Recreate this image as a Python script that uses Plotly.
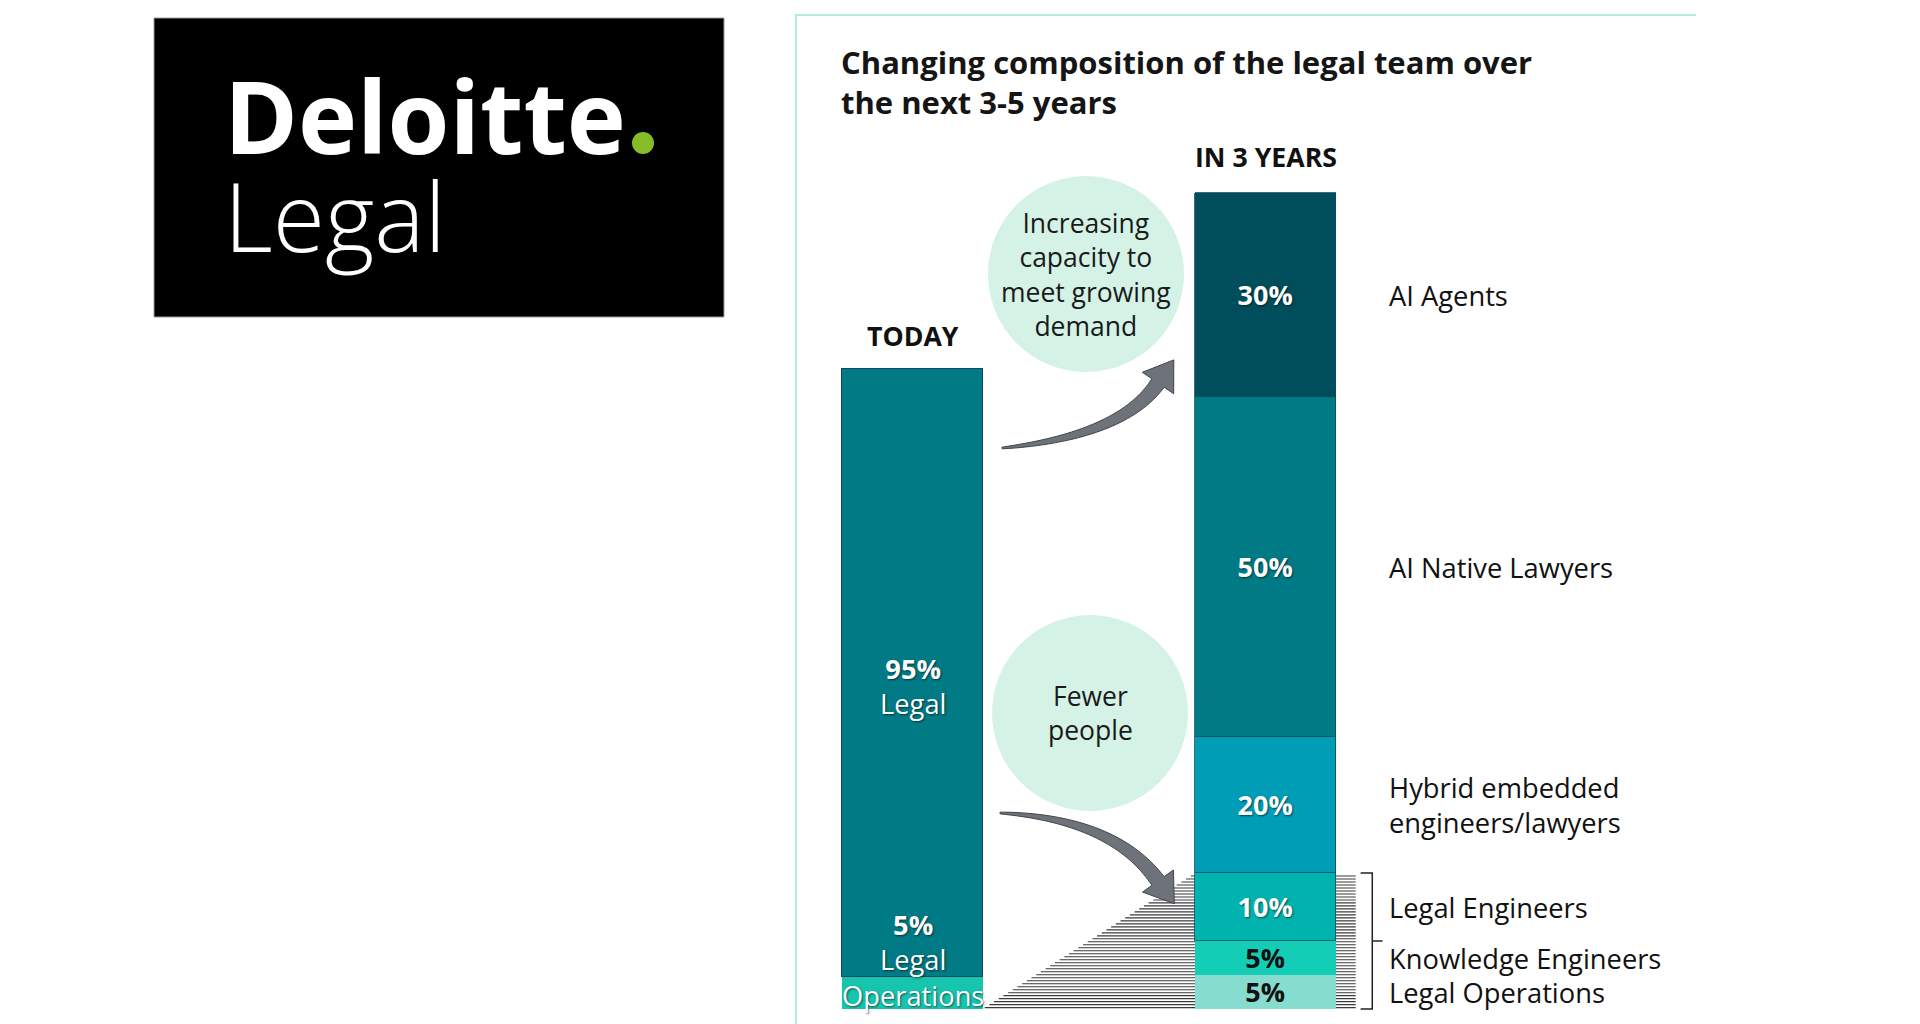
import numpy as np
import plotly.graph_objects as go

W, H = 1920, 1024
OFF = 8  # page body margin of the browser

# ---------------- data ----------------
bar_names = ["TODAY", "IN 3 YEARS"]
bar_pos = [0, 1]

today_labels = ["Legal Operations", "Legal"]
today_values = [5, 95]
today_colors = ["#17C4AE", "#007A84"]

future_labels = ["Legal Operations", "Knowledge Engineers", "Legal Engineers",
                 "Hybrid embedded<br>engineers/lawyers", "AI Native Lawyers", "AI Agents"]
future_values = [5, 5, 10, 20, 50, 30]
future_colors = ["#86DCCF", "#14CDB6", "#00B3AF", "#009DB7", "#007A84", "#004E5B"]
future_text_colors = ["#111111", "#111111", "white", "white", "white", "white"]

title_text = "Changing composition of the legal team over<br>the next 3-5 years"
bubble_texts = ["Increasing<br>capacity to<br>meet growing<br>demand", "Fewer<br>people"]

FONT = "Open Sans"
BAR_W = 0.397
SHADOW = "1px 1px 2px rgba(0,0,0,0.55)"
TXT = 27.3

fig = go.Figure()

# today bar (own scale)
for lab, v, c in zip(today_labels, today_values, today_colors):
    fig.add_trace(go.Bar(
        x=[bar_pos[0]], y=[v], width=BAR_W, name=lab, yaxis="y2",
        marker=dict(color=c, line=dict(color="#0d4a5e", width=1 if lab == "Legal" else 0)),
        hoverinfo="skip", showlegend=False))

# in 3 years bar
for lab, v, c, tc in zip(future_labels, future_values, future_colors, future_text_colors):
    fig.add_trace(go.Bar(
        x=[bar_pos[1]], y=[v], width=BAR_W, name=lab, yaxis="y",
        marker=dict(color=c, line=dict(color="#0d4a5e" if tc == "white" else "rgba(0,0,0,0)", width=0.8)),
        text=["<b>%d%%</b>" % v], textposition="inside", insidetextanchor="middle", constraintext="none",
        textfont=dict(family=FONT, size=27, color=tc, shadow=SHADOW if tc == "white" else "none"),
        hoverinfo="skip", showlegend=False))

# ---------------- geometry helpers (screen pixels -> paper) ----------------
def fx(px):
    return (px - OFF) / W

def fy(py):
    return 1 - (py - OFF) / H

def pp(px, py):
    return "%.5f,%.5f" % (fx(px), fy(py))

shapes = []
annotations = []

# frame of chart panel
shapes.append(dict(type="path", xref="paper", yref="paper",
                   path="M %s L %s L %s" % (pp(796, 1040), pp(796, 15), pp(1696, 15)),
                   line=dict(color="#b4eadf", width=2)))

# logo
shapes.append(dict(type="rect", xref="paper", yref="paper",
                   x0=fx(154), x1=fx(724), y0=fy(317), y1=fy(18),
                   fillcolor="black", line=dict(color="#9a9a9a", width=1)))
shapes.append(dict(type="circle", xref="paper", yref="paper",
                   x0=fx(643 - 11), x1=fx(643 + 11), y0=fy(143 + 11), y1=fy(143 - 11),
                   fillcolor="#86BC25", line=dict(width=0)))
annotations.append(dict(xref="paper", yref="paper", x=fx(222), y=fy(163), xanchor="left", yanchor="middle",
                        align="left", showarrow=False,
                        text=("<span style='font-size:100px;font-weight:700'>Deloitte</span><br>"
                              "<span style='font-size:95px;font-weight:300'>Legal</span>"),
                        font=dict(family=FONT, size=75, color="white")))

# title
annotations.append(dict(xref="paper", yref="paper", x=fx(839), y=fy(39), xanchor="left",
                        yanchor="top", align="left", showarrow=False, text="<b>%s</b>" % title_text,
                        font=dict(family=FONT, size=31, color="#151515")))

# bubbles
for (cx, cy), txt in zip([(1086, 274), (1090, 713)], bubble_texts):
    r = 98
    shapes.append(dict(type="circle", xref="paper", yref="paper", layer="below",
                       x0=fx(cx - r), x1=fx(cx + r), y0=fy(cy + r), y1=fy(cy - r),
                       fillcolor="#d5f2e7", line=dict(width=0)))
    annotations.append(dict(xref="paper", yref="paper", x=fx(cx), y=fy(cy), xanchor="center",
                            yanchor="middle", text=txt, showarrow=False,
                            font=dict(family=FONT, size=26.5, color="#1a1a1a")))

# curved arrows
def arrow_path(p0, p1, p2, head_len=28, head_half=19, w_end=7.5, w_start=0.8):
    p0, p1, p2 = map(np.array, (p0, p1, p2))
    ts = np.linspace(0, 1, 40)
    left, right = [], []
    for t in ts:
        pt = (1 - t) ** 2 * p0 + 2 * (1 - t) * t * p1 + t ** 2 * p2
        tg = 2 * (1 - t) * (p1 - p0) + 2 * t * (p2 - p1)
        tg = tg / np.linalg.norm(tg)
        n = np.array([-tg[1], tg[0]])
        w = w_start + (w_end - w_start) * t ** 0.8
        left.append(pt + n * w)
        right.append(pt - n * w)
    d = (p2 - p1) / np.linalg.norm(p2 - p1)
    ne = np.array([-d[1], d[0]])
    tip = p2 + d * head_len
    c1 = p2 + ne * head_half
    c2 = p2 - ne * head_half
    pts = left + [c1, tip, c2] + right[::-1]
    return "M " + " L ".join(pp(*q) for q in pts) + " Z"

shapes.append(dict(type="path", xref="paper", yref="paper",
                   path=arrow_path((1002, 448), (1121.7, 436), (1158, 383)),
                   fillcolor="#6d7378", line=dict(color="#3f454b", width=1)))
shapes.append(dict(type="path", xref="paper", yref="paper",
                   path=arrow_path((1000, 813), (1113.4, 818.7), (1158, 881)),
                   fillcolor="#6d7378", line=dict(color="#3f454b", width=1)))

# hatched wedge (data coords of the 3-year axis)
lo_top = sum(future_values[:3])          # top of Legal Engineers segment
x_tr = bar_pos[0] + BAR_W / 2
x_fl = bar_pos[1] - BAR_W / 2
x_fr = bar_pos[1] + BAR_W / 2 + 0.057
segs = []
for yv in np.arange(0.2, lo_top, 0.44):
    xl = x_tr + (x_fl - x_tr) * yv / lo_top
    segs.append("M %.4f,%.3f L %.4f,%.3f" % (xl, yv, x_fr, yv))
shapes.append(dict(type="path", xref="x", yref="y", layer="below", path=" ".join(segs),
                   line=dict(color="#3a3a3a", width=1.1)))

# bracket
bx = bar_pos[1] + BAR_W / 2
shapes.append(dict(type="path", xref="x", yref="y",
                   path="M %.4f,%.3f L %.4f,%.3f L %.4f,%.3f L %.4f,%.3f" % (
                       bx + 0.071, lo_top, bx + 0.104, lo_top, bx + 0.104, 0, bx + 0.071, 0),
                   line=dict(color="#222", width=1.5)))
shapes.append(dict(type="path", xref="x", yref="y",
                   path="M %.4f,%.3f L %.4f,%.3f" % (bx + 0.104, lo_top / 2, bx + 0.133, lo_top / 2),
                   line=dict(color="#222", width=1.5)))

# headers
annotations.append(dict(x=bar_pos[0], y=sum(today_values), xref="x", yref="y2", yanchor="bottom",
                        yshift=13, text="<b>%s</b>" % bar_names[0], showarrow=False,
                        font=dict(family=FONT, size=26.7, color="#111")))
annotations.append(dict(x=bar_pos[1], y=sum(future_values), xref="x", yref="y", yanchor="bottom",
                        yshift=16, text="<b>%s</b>" % bar_names[1], showarrow=False,
                        font=dict(family=FONT, size=26.7, color="#111")))

# today labels
annotations.append(dict(x=bar_pos[0], y=today_values[0] + today_values[1] / 2, xref="x", yref="y2",
                        yanchor="middle", yshift=-13,
                        text="<b>%d%%</b><br>Legal" % today_values[1], showarrow=False,
                        font=dict(family=FONT, size=TXT, color="white", shadow=SHADOW)))
annotations.append(dict(x=bar_pos[0], y=0, xref="x", yref="y2", yanchor="bottom", yshift=-7,
                        text="<b>%d%%</b><br>Legal<br>Operations" % today_values[0], showarrow=False,
                        font=dict(family=FONT, size=TXT, color="white", shadow=SHADOW)))

# right side labels
cum = np.cumsum([0] + future_values)
for i, lab in enumerate(future_labels):
    mid = (cum[i] + cum[i + 1]) / 2
    annotations.append(dict(x=bar_pos[1] + BAR_W / 2, y=mid, xref="x", yref="y", xanchor="left",
                            yanchor="middle", xshift=51, align="left", text=lab, showarrow=False,
                            font=dict(family=FONT, size=27.3, color="#111")))

# axes ranges: x=0 bar centred at screen x 912.5, 353 px per unit;
# 3-year scale 6.8 px per %, today scale 6.4 px per %, both with 0 at screen y 1009
x_unit = 353.0
x0_px = 912.5 - OFF
y0_px = 1009 - OFF
fig.update_layout(
    width=W, height=H, margin=dict(l=0, r=0, t=0, b=0),
    paper_bgcolor="white", plot_bgcolor="rgba(0,0,0,0)",
    barmode="stack", bargap=0, showlegend=False,
    xaxis=dict(range=[-x0_px / x_unit, (W - x0_px) / x_unit], domain=[0, 1], visible=False, fixedrange=True),
    yaxis=dict(range=[-(H - y0_px) / 6.8, y0_px / 6.8], domain=[0, 1], visible=False, fixedrange=True),
    yaxis2=dict(range=[-(H - y0_px) / 6.4, y0_px / 6.4], overlaying="y", visible=False, fixedrange=True),
    shapes=shapes, annotations=annotations,
)

fig.write_html("out.html")
